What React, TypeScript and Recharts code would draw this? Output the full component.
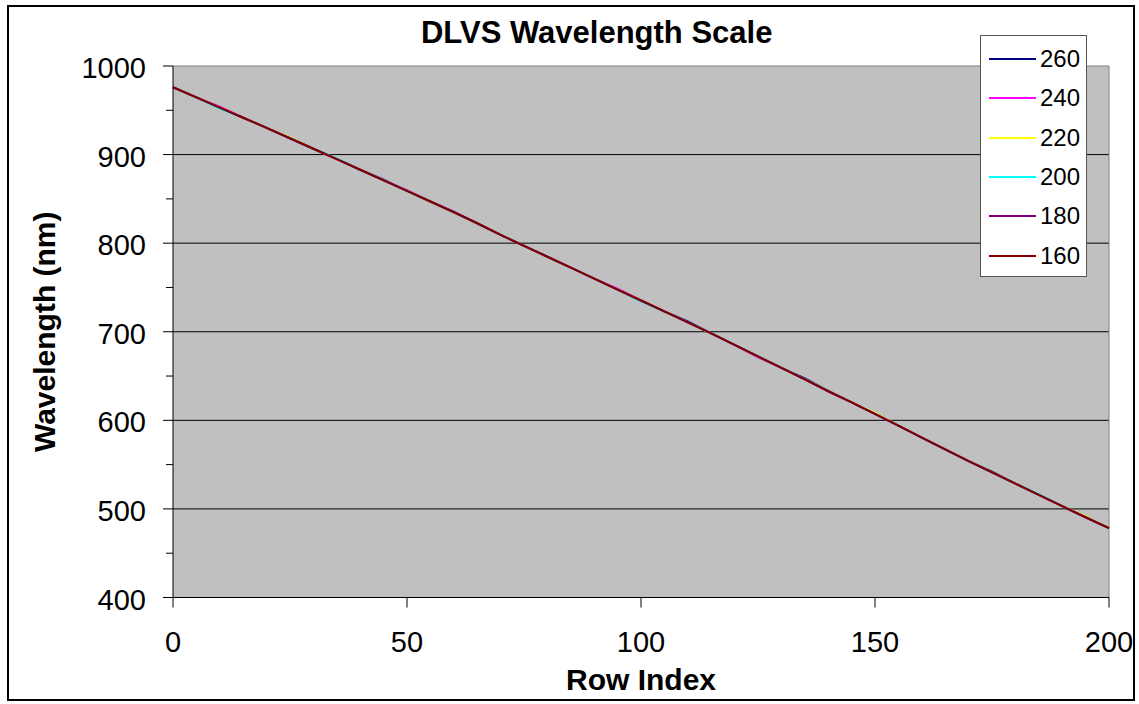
import { LineChart, Line, XAxis, YAxis, CartesianGrid, Legend, ReferenceLine, Label } from 'recharts';

// row index (every 5th row)
const rows = [0, 5, 10, 15, 20, 25, 30, 35, 40, 45, 50, 55, 60, 65, 70, 75, 80, 85, 90, 95, 100,
  105, 110, 115, 120, 125, 130, 135, 140, 145, 150, 155, 160, 165, 170, 175, 180, 185, 190, 195, 200];

const w260 = [976.0, 964.5, 953.0, 941.6, 930.2, 918.4, 906.6, 894.8, 882.9, 871.8, 859.0, 847.0, 834.8, 822.5, 809.4, 797.0, 784.7, 772.3, 760.0, 747.6, 735.3,
  722.9, 711.8, 698.2, 685.2, 672.2, 659.2, 647.2, 633.2, 620.3, 607.3, 594.1, 580.6, 567.2, 554.0, 542.1, 528.5, 515.8, 503.1, 490.6, 478.3];
const w240 = [976.0, 964.5, 954.0, 941.6, 930.2, 918.4, 906.6, 894.8, 882.9, 870.8, 859.9, 847.0, 834.8, 822.5, 809.4, 797.0, 784.7, 772.3, 760.0, 748.6, 735.3,
  722.9, 710.6, 698.2, 685.2, 671.2, 659.2, 646.2, 633.2, 620.3, 607.3, 594.1, 580.6, 567.2, 554.0, 541.3, 528.5, 515.8, 503.1, 490.6, 478.3];
const w220 = [976.0, 964.5, 953.0, 941.6, 930.2, 919.4, 906.6, 894.8, 882.9, 870.8, 859.0, 847.0, 834.8, 822.5, 809.4, 797.0, 784.7, 772.3, 760.0, 747.6, 735.3,
  722.9, 710.6, 698.2, 685.2, 672.2, 659.2, 646.2, 633.2, 620.3, 608.3, 594.1, 580.6, 567.2, 554.0, 541.3, 528.5, 515.8, 503.1, 491.6, 478.3];
const w200 = [976.0, 964.5, 952.0, 941.6, 930.2, 918.4, 906.6, 895.8, 882.9, 870.8, 859.0, 847.0, 834.8, 822.5, 809.4, 797.0, 784.7, 772.3, 760.0, 747.6, 734.3,
  722.9, 710.6, 698.2, 685.2, 672.2, 659.2, 646.2, 633.2, 620.3, 607.3, 594.1, 580.6, 567.2, 554.0, 541.3, 528.5, 516.8, 503.1, 490.6, 478.3];
const w180 = [976.0, 964.5, 953.0, 941.6, 930.2, 918.4, 906.6, 894.8, 882.9, 870.8, 859.0, 847.0, 835.6, 822.5, 809.4, 797.0, 784.7, 772.3, 760.0, 747.6, 735.3,
  722.9, 710.6, 698.2, 685.2, 672.2, 659.2, 646.2, 632.4, 620.3, 607.3, 594.1, 580.6, 567.2, 554.0, 541.3, 528.5, 515.8, 503.1, 490.6, 478.3];
const w160 = [976.0, 964.5, 953.0, 941.6, 930.2, 918.4, 906.6, 894.8, 882.9, 870.8, 859.0, 847.0, 834.8, 822.5, 809.4, 797.0, 784.7, 772.3, 760.0, 747.6, 735.3,
  722.9, 710.6, 698.2, 685.2, 672.2, 659.2, 646.2, 633.2, 620.3, 607.3, 594.1, 580.6, 567.2, 554.0, 541.3, 528.5, 515.8, 503.1, 490.6, 478.3];

const seriesNames = ['260', '240', '220', '200', '180', '160'];
const seriesValues = [w260, w240, w220, w200, w180, w160];
const seriesColors = ['#000080', '#FF00FF', '#FFFF00', '#00FFFF', '#800080', '#800000'];

const yTicks = [400, 450, 500, 550, 600, 650, 700, 750, 800, 850, 900, 950, 1000];
const yGrid = [500, 600, 700, 800, 900];
const xTicks = [0, 50, 100, 150, 200];

const FONT = '"Liberation Sans", Arial, sans-serif';

const data = rows.map((row, i) => {
  const d: any = { row };
  seriesNames.forEach((name, s) => {
    d['s' + name] = seriesValues[s][i];
  });
  return d;
});

// y tick: major ticks with a label, minor ticks at the 50s
const YTick = ({ x, y, payload }: any) => {
  const major = payload.value % 100 === 0;
  return (
    <g>
      <line x1={x + (major ? 17 : 20)} x2={x + 27} y1={y} y2={y} stroke="#000" strokeWidth={1} />
      {major && (
        <text x={x} y={y} dy={12} textAnchor="end" fill="#000" fontSize={29} fontFamily={FONT}>
          {payload.value}
        </text>
      )}
    </g>
  );
};

// legend keeps the series order (260 on top)
const LegendBox = () => (
  <div
    style={{
      position: 'relative',
      width: 107,
      height: 242,
      background: '#fff',
      border: '1px solid #555',
      boxSizing: 'border-box',
      fontFamily: FONT,
      fontSize: 24,
    }}
  >
    {seriesNames.map((name, i) => (
      <div key={name} style={{ position: 'absolute', left: 0, top: 23 + i * 39.3 - 14, height: 28, display: 'flex', alignItems: 'center' }}>
        <div style={{ width: 47, height: 2, background: seriesColors[i], marginLeft: 8 }} />
        <span style={{ marginLeft: 4, color: '#000', lineHeight: '28px' }}>{name}</span>
      </div>
    ))}
  </div>
);

export default function App() {
  return (
    <div style={{ position: 'absolute', left: 0, top: 0, width: 1139, height: 704, background: '#fff' }}>
      <LineChart width={1139} height={704} data={data} margin={{ top: 66, right: 30, left: 0, bottom: 0 }}>
        <CartesianGrid horizontal vertical={false} horizontalValues={yGrid} stroke="#000" fill="#C0C0C0" fillOpacity={1} />
        <XAxis
          dataKey="row"
          type="number"
          domain={[0, 200]}
          ticks={xTicks}
          interval={0}
          height={106.5}
          tickSize={10}
          tickMargin={24}
          axisLine={{ stroke: '#000' }}
          tickLine={{ stroke: '#000' }}
          tick={{ fill: '#000', fontSize: 29, fontFamily: FONT }}
        >
          <Label value="Row Index" position="insideBottom" offset={14} fill="#000" fontSize={30} fontWeight="bold" fontFamily={FONT} />
        </XAxis>
        <YAxis
          type="number"
          domain={[400, 1000]}
          ticks={yTicks}
          interval={0}
          width={173}
          tickSize={10}
          tickMargin={17}
          axisLine={{ stroke: '#000' }}
          tickLine={false}
          tick={<YTick />}
        >
          <Label
            value="Wavelength (nm)"
            angle={-90}
            position="insideLeft"
            offset={44}
            fill="#000"
            fontSize={30}
            fontWeight="bold"
            fontFamily={FONT}
            style={{ textAnchor: 'middle' }}
          />
        </YAxis>
        <ReferenceLine y={1000} stroke="#808080" />
        <ReferenceLine x={200} stroke="#808080" />
        {seriesNames.map((name, s) => (
          <Line
            key={name}
            type="linear"
            dataKey={'s' + name}
            name={name}
            stroke={seriesColors[s]}
            strokeWidth={2}
            dot={false}
            isAnimationActive={false}
          />
        ))}
        <Legend
          layout="vertical"
          align="center"
          verticalAlign="middle"
          content={<LegendBox />}
          wrapperStyle={{ position: 'absolute', left: 980, top: 35, width: 107, height: 242 }}
        />
      </LineChart>
      <div
        style={{
          position: 'absolute',
          left: 296.7,
          top: 17,
          width: 600,
          textAlign: 'center',
          fontFamily: FONT,
          fontWeight: 'bold',
          fontSize: 31,
          lineHeight: '31px',
          color: '#000',
        }}
      >
        DLVS Wavelength Scale
      </div>
      <div
        style={{
          position: 'absolute',
          left: 7,
          top: 5,
          width: 1128,
          height: 696,
          border: '2px solid #000',
          boxSizing: 'border-box',
          pointerEvents: 'none',
        }}
      />
    </div>
  );
}
